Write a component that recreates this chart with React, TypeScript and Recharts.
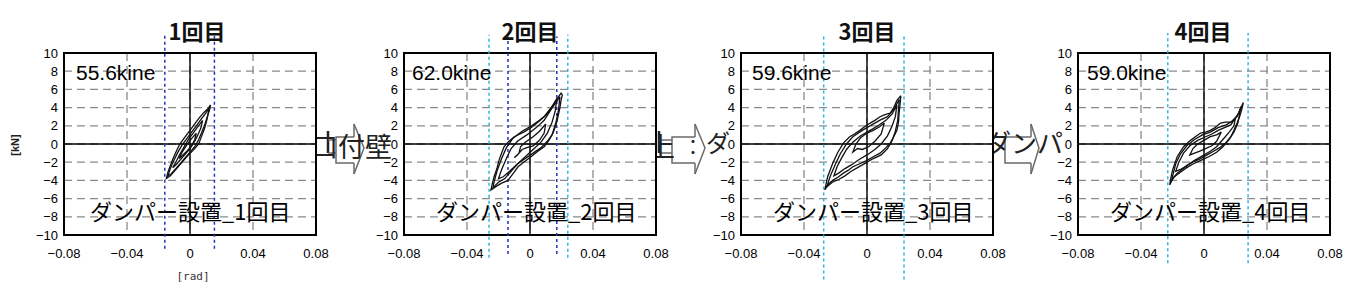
import React from 'react';
import {
  ScatterChart,
  Scatter,
  XAxis,
  YAxis,
  CartesianGrid,
  ReferenceLine,
  ReferenceArea,
} from 'recharts';

// ---------- data ----------
const titles = ['1回目', '2回目', '3回目', '4回目'];
const velocityLabels = ['55.6kine', '62.0kine', '59.6kine', '59.0kine'];
const caseLabels = ['ダンパー設置_1回目', 'ダンパー設置_2回目', 'ダンパー設置_3回目', 'ダンパー設置_4回目'];
const xTicks = [-0.08, -0.04, 0, 0.04, 0.08];
const yTicks = [-10, -8, -6, -4, -2, 0, 2, 4, 6, 8, 10];

// run 1 loops [rad, kN]
const run1Outer = [
  [0.013, 4.3], [0.0115, 3.9], [0.009, 3.5], [0.006, 2.9], [0.003, 2.2], [0.0, 1.5], [-0.003, 0.8],
  [-0.0065, 0.0], [-0.009, -0.9], [-0.011, -1.7], [-0.0125, -2.4], [-0.014, -3.1], [-0.015, -3.8],
  [-0.0125, -3.5], [-0.01, -3.0], [-0.007, -2.4], [-0.004, -1.8], [-0.001, -1.2], [0.002, -0.7],
  [0.0055, 0.0], [0.007, 0.7], [0.009, 1.6], [0.0105, 2.5], [0.0115, 3.3], [0.0125, 3.8], [0.013, 4.3],
];
const run1Second = [
  [0.0125, 4.0], [0.01, 3.4], [0.007, 2.7], [0.004, 2.0], [0.001, 1.3], [-0.002, 0.6], [-0.005, -0.1],
  [-0.008, -1.0], [-0.0105, -1.9], [-0.0125, -2.7], [-0.014, -3.5], [-0.012, -3.3], [-0.009, -2.7],
  [-0.006, -2.1], [-0.003, -1.5], [0.0, -0.9], [0.003, -0.3], [0.0055, 0.5], [0.0075, 1.3],
  [0.0095, 2.2], [0.011, 3.0], [0.0125, 4.0],
];
const run1InnerA = [
  [0.008, 2.6], [0.005, 1.9], [0.002, 1.2], [-0.001, 0.5], [-0.004, -0.4], [-0.007, -1.3], [-0.009, -2.0],
  [-0.011, -2.6], [-0.009, -2.3], [-0.006, -1.7], [-0.003, -1.1], [0.0, -0.5], [0.003, 0.3], [0.005, 1.0],
  [0.007, 1.8], [0.008, 2.6],
];
const run1InnerB = [
  [0.004, 1.2], [0.001, 0.6], [-0.002, -0.1], [-0.005, -0.9], [-0.007, -1.6], [-0.005, -1.3],
  [-0.002, -0.8], [0.001, -0.2], [0.003, 0.5], [0.004, 1.2],
];

// run 2 loops
const run2Outer = [
  [0.0197, 5.6], [0.0185, 5.3], [0.0165, 4.8], [0.013, 3.9], [0.009, 3.0], [0.005, 2.4], [0.0006, 1.8],
  [-0.004, 1.3], [-0.01, 0.8], [-0.014, 0.2], [-0.0165, -0.3], [-0.018, -1.0], [-0.0197, -1.8],
  [-0.021, -2.7], [-0.0228, -3.6], [-0.024, -4.4], [-0.0248, -5.05], [-0.021, -4.6], [-0.018, -4.3],
  [-0.014, -4.0], [-0.011, -3.3], [-0.0076, -2.5], [-0.004, -2.0], [0.0006, -1.4], [0.005, -0.8],
  [0.009, -0.3], [0.012, 0.4], [0.0146, 1.2], [0.0165, 2.1], [0.0178, 3.0], [0.019, 4.0], [0.0197, 4.8],
  [0.0205, 5.4], [0.0197, 5.6], [0.0185, 5.3],
];
const run2Second = [
  [0.019, 5.2], [0.015, 4.2], [0.011, 3.3], [0.006, 2.6], [0.001, 2.0], [-0.005, 1.4], [-0.011, 0.6],
  [-0.015, -0.4], [-0.018, -1.6], [-0.021, -3.0], [-0.023, -4.3], [-0.0235, -4.8], [-0.02, -4.2],
  [-0.016, -3.8], [-0.012, -3.0], [-0.008, -2.2], [-0.003, -1.6], [0.002, -1.0], [0.007, -0.4],
  [0.011, 0.3], [0.014, 1.0], [0.0165, 2.4], [0.018, 3.6], [0.019, 5.2],
];
const run2InnerA = [
  [0.017, 5.0], [0.013, 3.7], [0.009, 2.6], [0.004, 1.8], [-0.002, 1.0], [-0.008, 0.3], [-0.012, -0.5],
  [-0.015, -1.6], [-0.018, -2.8], [-0.02, -3.8], [-0.017, -3.6], [-0.013, -3.0], [-0.008, -2.2],
  [-0.003, -1.4], [0.002, -0.6], [0.007, 0.2], [0.011, 1.2], [0.014, 2.4], [0.016, 3.6], [0.017, 5.0],
];
const run2InnerB = [
  [0.01, 2.2], [0.006, 1.4], [0.002, 0.8], [-0.003, 0.2], [-0.006, -0.3], [-0.007, -1.0], [-0.01, -1.5],
  [-0.008, -1.2], [-0.005, -0.6], [-0.002, -0.4], [0.002, -0.2], [0.006, 0.4], [0.009, 1.2], [0.01, 2.2],
];

// run 3 loops
const run3Outer = [
  [0.0215, 5.3], [0.019, 4.8], [0.017, 4.0], [0.0147, 3.4], [0.011, 3.2], [0.0083, 3.0], [0.005, 2.6],
  [0.002, 2.3], [-0.0015, 1.9], [-0.0045, 1.5], [-0.008, 1.1], [-0.011, 0.8], [-0.015, 0.1],
  [-0.0185, -0.9], [-0.0217, -2.1], [-0.0235, -2.9], [-0.025, -3.6], [-0.026, -4.4], [-0.0268, -5.05],
  [-0.0245, -4.4], [-0.0217, -4.0], [-0.018, -3.6], [-0.015, -3.2], [-0.012, -2.9], [-0.009, -2.5],
  [-0.005, -2.2], [0.0, -1.8], [0.004, -1.4], [0.0083, -1.0], [0.012, -0.4], [0.0147, 0.1], [0.017, 0.8],
  [0.019, 1.5], [0.02, 2.4], [0.0204, 3.4], [0.021, 4.4], [0.0215, 5.3],
];
const run3Second = [
  [0.0205, 4.9], [0.017, 3.8], [0.013, 3.0], [0.008, 2.6], [0.003, 2.1], [-0.003, 1.5], [-0.009, 0.8],
  [-0.013, 0.0], [-0.017, -1.1], [-0.02, -2.2], [-0.0235, -3.6], [-0.0255, -4.7], [-0.022, -4.2],
  [-0.018, -3.9], [-0.014, -3.5], [-0.01, -3.0], [-0.006, -2.6], [-0.001, -2.1], [0.004, -1.6],
  [0.009, -1.2], [0.013, -0.5], [0.016, 0.4], [0.018, 1.4], [0.0195, 2.6], [0.0205, 4.9],
];
const run3InnerA = [
  [0.019, 4.3], [0.016, 3.3], [0.012, 2.6], [0.007, 2.0], [0.002, 1.5], [-0.004, 0.9], [-0.009, 0.2],
  [-0.013, -0.6], [-0.016, -1.5], [-0.019, -2.5], [-0.021, -3.5], [-0.018, -3.2], [-0.014, -2.7],
  [-0.01, -2.3], [-0.005, -1.7], [0.0, -1.2], [0.005, -0.6], [0.009, 0.0], [0.013, 0.9], [0.016, 2.0],
  [0.018, 3.0], [0.019, 4.3],
];
const run3InnerB = [
  [0.011, 2.3], [0.008, 1.9], [0.004, 1.5], [0.0, 1.2], [-0.004, 0.7], [-0.007, 0.0], [-0.009, -0.9],
  [-0.006, -0.5], [-0.003, -0.6], [0.001, -0.3], [0.005, 0.3], [0.009, 1.1], [0.011, 2.3],
];

// run 4 loops
const run4Outer = [
  [0.025, 4.55], [0.0235, 4.0], [0.022, 3.4], [0.0195, 2.8], [0.0169, 2.4], [0.0135, 2.4], [0.0105, 2.3],
  [0.007, 1.8], [0.004, 1.5], [0.001, 1.3], [-0.0022, 1.2], [-0.0055, 0.8], [-0.0086, 0.4],
  [-0.013, -0.3], [-0.017, -1.4], [-0.0185, -2.1], [-0.02, -2.9], [-0.021, -3.7], [-0.0218, -4.5],
  [-0.019, -3.6], [-0.017, -3.2], [-0.014, -2.8], [-0.0105, -2.3], [-0.006, -1.9], [-0.0022, -1.6],
  [0.002, -1.2], [0.006, -0.8], [0.01, -0.4], [0.0137, 0.1], [0.017, 0.8], [0.019, 1.5], [0.021, 2.3],
  [0.0226, 3.0], [0.024, 3.8], [0.025, 4.55],
];
const run4Second = [
  [0.0235, 4.1], [0.021, 3.0], [0.018, 2.5], [0.014, 2.1], [0.009, 1.8], [0.004, 1.3], [-0.001, 1.0],
  [-0.006, 0.5], [-0.011, -0.2], [-0.015, -1.1], [-0.018, -2.2], [-0.0205, -3.9], [-0.018, -3.5],
  [-0.015, -3.1], [-0.011, -2.6], [-0.007, -2.2], [-0.002, -1.8], [0.003, -1.4], [0.008, -0.9],
  [0.012, -0.3], [0.016, 0.5], [0.019, 1.3], [0.0215, 2.3], [0.0235, 4.1],
];
const run4InnerA = [
  [0.02, 2.9], [0.017, 2.1], [0.013, 1.8], [0.009, 1.5], [0.005, 1.1], [0.001, 0.8], [-0.004, 0.4],
  [-0.009, -0.2], [-0.013, -1.0], [-0.016, -2.0], [-0.018, -3.0], [-0.015, -2.8], [-0.011, -2.4],
  [-0.006, -1.8], [-0.001, -1.3], [0.004, -0.8], [0.008, -0.3], [0.012, 0.5], [0.016, 1.3], [0.019, 2.0],
  [0.02, 2.9],
];
const run4InnerB = [
  [0.011, 1.3], [0.008, 1.0], [0.004, 0.8], [0.0, 0.4], [-0.004, 0.0], [-0.007, -0.5], [-0.009, -1.2],
  [-0.006, -1.0], [-0.003, -0.8], [0.001, -0.5], [0.005, -0.2], [0.008, 0.3], [0.011, 1.3],
];

// dashed marker lines [rad]
const run1DarkLines = [-0.016, 0.0155];
const run1CyanLines: number[] = [];
const run2DarkLines = [-0.014, 0.017];
const run2CyanLines = [-0.026, 0.024];
const run3DarkLines: number[] = [];
const run3CyanLines = [-0.0275, 0.0235];
const run4DarkLines: number[] = [];
const run4CyanLines = [-0.023, 0.028];

// ---------- layout ----------
const plotLefts = [64, 404, 741, 1078];
const titleCenters = [197, 530, 867, 1203];
const velOffsets = [12, 8, 11, 9];
const caseOffsets = [26, 32, 32, 32];
const markerSpans = [
  [-11.9, 12.2],
  [-12.5, 12.0],
  [-14.9, 11.8],
  [-13.1, 12.2],
];

const toPts = (a: number[][]) => a.map(([x, y]) => ({ x, y }));
const runs = [
  { loops: [run1Outer, run1Second, run1InnerA, run1InnerB], dark: run1DarkLines, cyan: run1CyanLines },
  { loops: [run2Outer, run2Second, run2InnerA, run2InnerB], dark: run2DarkLines, cyan: run2CyanLines },
  { loops: [run3Outer, run3Second, run3InnerA, run3InnerB], dark: run3DarkLines, cyan: run3CyanLines },
  { loops: [run4Outer, run4Second, run4InnerA, run4InnerB], dark: run4DarkLines, cyan: run4CyanLines },
];

const LATIN = '"Liberation Sans", Arial, "Noto Sans CJK JP", sans-serif';
const JP = '"Noto Sans CJK JP", "Liberation Sans", sans-serif';
const minus = (s: string) => s.replace('-', '\u2212');
const fmtX = (v: number) => (v === 0 ? '0' : minus(v.toFixed(2)));
const fmtY = (v: number) => minus(String(v));

const NoDot = () => <g />;

function Panel({ idx }: { idx: number }) {
  const run = runs[idx];
  const [yb, yt] = markerSpans[idx];
  return (
    <div style={{ position: 'absolute', left: plotLefts[idx] - 60, top: 0 }}>
      <ScatterChart width={342} height={290} margin={{ top: 53, right: 30, bottom: 25, left: 0 }}>
        <CartesianGrid stroke="#8a8a8a" strokeWidth={1.3} strokeDasharray="8 5" fill="#fff" fillOpacity={1} />
        <XAxis
          type="number"
          dataKey="x"
          domain={[-0.08, 0.08]}
          ticks={xTicks}
          interval={0}
          height={30}
          axisLine={false}
          tickLine={false}
          tickSize={0}
          tickMargin={14}
          tick={{ fontSize: 13, fill: '#000', fontFamily: LATIN }}
          tickFormatter={fmtX}
        />
        <YAxis
          type="number"
          dataKey="y"
          domain={[-10, 10]}
          ticks={yTicks}
          interval={0}
          width={60}
          axisLine={false}
          tickLine={false}
          tickSize={0}
          tickMargin={6}
          tick={{ fontSize: 13, fill: '#000', fontFamily: LATIN }}
          tickFormatter={fmtY}
        />
        <ReferenceLine x={0} stroke="#000" strokeWidth={1.4} />
        <ReferenceLine y={0} stroke="#000" strokeWidth={1.4} />
        {run.loops.map((loop, i) => (
          <Scatter
            key={i}
            data={toPts(loop)}
            line={{ stroke: '#111', strokeWidth: 1.3 }}
            lineType="joint"
            shape={NoDot}
            isAnimationActive={false}
          />
        ))}
        <ReferenceArea x1={-0.08} x2={0.08} y1={-10} y2={10} fill="none" stroke="#000" strokeWidth={2} />
        {run.cyan.map((v, i) => (
          <ReferenceLine
            key={'c' + i}
            segment={[{ x: v, y: yb }, { x: v, y: yt }]}
            stroke="#2fb4e0"
            strokeWidth={1.5}
            strokeDasharray="3 3"
            ifOverflow="visible"
          />
        ))}
        {run.dark.map((v, i) => (
          <ReferenceLine
            key={'d' + i}
            segment={[{ x: v, y: yb + 0.4 }, { x: v, y: yt - 0.2 }]}
            stroke="#2233bb"
            strokeWidth={1.5}
            strokeDasharray="3 3"
            ifOverflow="visible"
          />
        ))}
      </ScatterChart>
    </div>
  );
}

function Arrow({ bodyL, bodyR, tip, bar }: { bodyL: number; bodyR: number; tip: number; bar?: number }) {
  return (
    <g fill="none" stroke="#6a6a6a" strokeWidth={1.5}>
      {bar !== undefined && (
        <>
          <line x1={bar} y1={131} x2={bar} y2={153} stroke="#222" strokeWidth={2.5} />
          <line x1={bar} y1={140} x2={bodyL} y2={140} />
          <line x1={bar} y1={153} x2={bodyL} y2={153} />
        </>
      )}
      <polyline points={`${bodyR},137 ${bodyL},137 ${bodyL},163 ${bodyR},163`} />
      <polyline points={`${bodyR},124 ${tip},148 ${bodyR},174`} />
      <line x1={bodyR} y1={124} x2={bodyR} y2={137} />
      <line x1={bodyR} y1={163} x2={bodyR} y2={174} />
    </g>
  );
}

export default function App() {
  return (
    <div style={{ position: 'absolute', left: 0, top: 0, width: 1355, height: 290, background: '#fff', overflow: 'hidden' }}>
      {/* background diagram fragments */}
      <svg width={1355} height={290} style={{ position: 'absolute', left: 0, top: 0 }}>
        <Arrow bodyL={336} bodyR={354} tip={364} bar={328} />
        <Arrow bodyL={672} bodyR={695} tip={705} bar={659} />
        <Arrow bodyL={1005} bodyR={1031} tip={1039} />
        <g fontFamily={JP} fontSize={27} fill="#222">
          <text x={311} y={157}>口付壁</text>
          <text x={648} y={157}>上</text>
          <text x={683} y={155} fontSize={20}>：</text>
          <text x={706} y={152} fontSize={24}>ダ</text>
          <text x={985} y={153} fontSize={26}>ダンパ</text>
        </g>
      </svg>

      {[0, 1, 2, 3].map((i) => (
        <Panel key={i} idx={i} />
      ))}

      {/* texts */}
      <svg width={1355} height={290} style={{ position: 'absolute', left: 0, top: 0, pointerEvents: 'none' }}>
        {titles.map((t, i) => (
          <text key={'t' + i} x={titleCenters[i]} y={40} textAnchor="middle" fontFamily={JP} fontWeight="bold" fontSize={22} fill="#111">
            {t}
          </text>
        ))}
        {velocityLabels.map((t, i) => (
          <text key={'v' + i} x={plotLefts[i] + velOffsets[i]} y={80} fontFamily={LATIN} fontSize={21} fill="#000">
            {t}
          </text>
        ))}
        {caseLabels.map((t, i) => (
          <text key={'c' + i} x={plotLefts[i] + caseOffsets[i]} y={220} fontFamily={JP} fontSize={22} fill="#000">
            {t}
          </text>
        ))}
        <text x={0} y={0} transform="translate(19,145) rotate(-90)" textAnchor="middle" fontFamily={LATIN} fontWeight="bold" fontSize={11} fill="#222">
          [kN]
        </text>
        <text x={193} y={280} textAnchor="middle" fontFamily='"DejaVu Sans Mono", monospace' fontSize={11} fill="#333">
          [rad]
        </text>
      </svg>
    </div>
  );
}
